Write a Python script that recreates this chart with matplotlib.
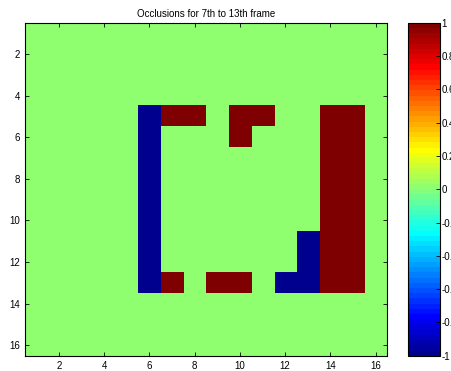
import matplotlib
matplotlib.use("Agg")
import matplotlib.pyplot as plt
import numpy as np
from matplotlib.colors import ListedColormap
from matplotlib.ticker import FormatStrFormatter

plt.rcParams['font.family'] = ['Liberation Sans', 'DejaVu Sans']

# grid values: -1 (blue), 0 (green), 1 (red); rows/cols are 1-based like in matlab
n_rows = 16
n_cols = 16
blue_cells = [(r, 6) for r in range(5, 14)] + [(11, 13), (12, 13), (13, 12), (13, 13)]
red_cells = [(5, 7), (5, 8), (5, 10), (5, 11), (6, 10),
             (13, 7), (13, 9), (13, 10)] + \
            [(r, c) for r in range(5, 14) for c in (14, 15)]
cbar_ticks = [1, 0.8, 0.6, 0.4, 0.2, 0, -0.2, -0.4, -0.6, -0.8, -1]
axis_ticks = [2, 4, 6, 8, 10, 12, 14, 16]

occ = np.zeros((n_rows, n_cols))
for r, c in blue_cells:
    occ[r - 1, c - 1] = -1
for r, c in red_cells:
    occ[r - 1, c - 1] = 1

# matlab style jet(64)
def matlab_jet(m=64):
    n = int(np.ceil(m / 4))
    u = np.concatenate([np.arange(1, n + 1) / n, np.ones(n - 1), np.arange(n, 0, -1) / n])
    g = int(np.ceil(n / 2)) - (1 if m % 4 == 1 else 0) + np.arange(1, len(u) + 1)
    r = g + n
    b = g - n
    J = np.zeros((m, 3))
    for idx, col in ((r, 0), (g, 1), (b, 2)):
        ok = (idx >= 1) & (idx <= m)
        J[idx[ok] - 1, col] = u[ok]
    return ListedColormap(J)

cmap = matlab_jet(64)

fig = plt.figure(figsize=(4.51, 3.71), dpi=100)
ax = fig.add_axes([0.0554, 0.0412, 0.8027, 0.8976])
im = ax.imshow(occ, cmap=cmap, vmin=-1, vmax=1, aspect='auto',
               interpolation='nearest',
               extent=[0.5, n_cols + 0.5, n_rows + 0.5, 0.5])
ax.set_xticks(axis_ticks)
ax.set_yticks(axis_ticks)
ax.tick_params(direction='in', top=True, right=True, labelsize=7, length=3, width=0.6)
for s in ax.spines.values():
    s.set_linewidth(0.8)
ax.set_title('Occlusions for 7th to 13th frame', fontsize=7, pad=4)

cax = fig.add_axes([0.9054, 0.0412, 0.071, 0.8976])
cb = fig.colorbar(im, cax=cax, ticks=cbar_ticks)
cb.ax.yaxis.set_major_formatter(FormatStrFormatter('%g'))
cb.ax.tick_params(direction='in', labelsize=7, length=3, width=0.6, pad=1)
cb.outline.set_linewidth(0.8)

fig.savefig('out.png', dpi=100)
